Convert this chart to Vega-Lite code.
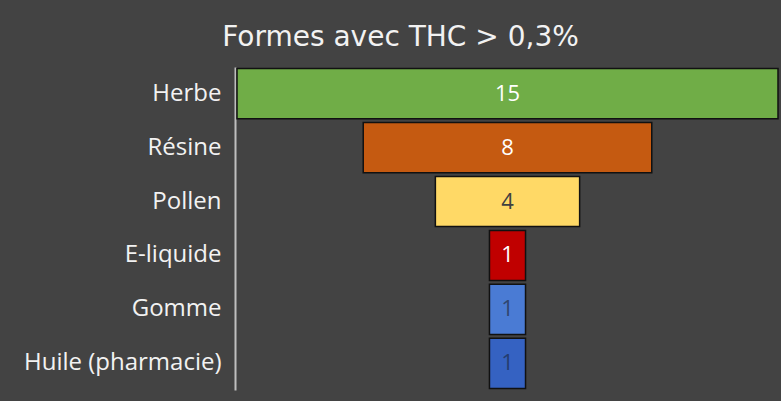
{
  "$schema": "https://vega.github.io/schema/vega-lite/v6.json",
  "width": 541,
  "height": 323,
  "autosize": {"type": "none"},
  "padding": {"left": 237, "top": 67, "right": 3, "bottom": 11},
  "background": "#434343",
  "title": {
    "text": "Formes avec THC > 0,3%",
    "color": "#f2f2f2",
    "fontSize": 28,
    "font": "DejaVu Sans",
    "fontWeight": "normal",
    "anchor": "middle",
    "dx": -107,
    "offset": 15
  },
  "data": {
    "values": [
      {"forme": "Herbe", "n": 15, "col": "#70ad47", "tc": "#ffffff"},
      {"forme": "Résine", "n": 8, "col": "#c55a11", "tc": "#ffffff"},
      {"forme": "Pollen", "n": 4, "col": "#ffd966", "tc": "#404040"},
      {"forme": "E-liquide", "n": 1, "col": "#c00000", "tc": "#ffffff"},
      {"forme": "Gomme", "n": 1, "col": "#4a7bd4", "tc": "#2f4670"},
      {"forme": "Huile (pharmacie)", "n": 1, "col": "#3562c2", "tc": "#243d70"}
    ]
  },
  "encoding": {
    "y": {
      "field": "forme",
      "type": "nominal",
      "sort": null,
      "scale": {"paddingInner": 0.07, "paddingOuter": 0.03},
      "axis": {
        "title": null,
        "ticks": false,
        "offset": 2,
        "labelFont": "Open Sans",
        "labelFontSize": 24,
        "labelLimit": 400,
        "labelColor": "#f2f2f2",
        "labelPadding": 14,
        "domainColor": "#bfbfbf",
        "domainWidth": 2,
        "grid": false
      }
    }
  },
  "layer": [
    {
      "mark": {"type": "bar", "stroke": "#111111", "strokeWidth": 1.5},
      "encoding": {
        "x": {"field": "n", "type": "quantitative", "stack": "center", "scale": {"domain": [0, 15], "nice": false}, "axis": null},
        "color": {"field": "col", "type": "nominal", "scale": null, "legend": null}
      }
    },
    {
      "mark": {"type": "text", "font": "Open Sans", "fontSize": 22},
      "encoding": {
        "x": {"datum": 7.5, "type": "quantitative"},
        "text": {"field": "n", "type": "quantitative"},
        "color": {"field": "tc", "type": "nominal", "scale": null, "legend": null}
      }
    }
  ],
  "config": {"view": {"stroke": null}}
}
